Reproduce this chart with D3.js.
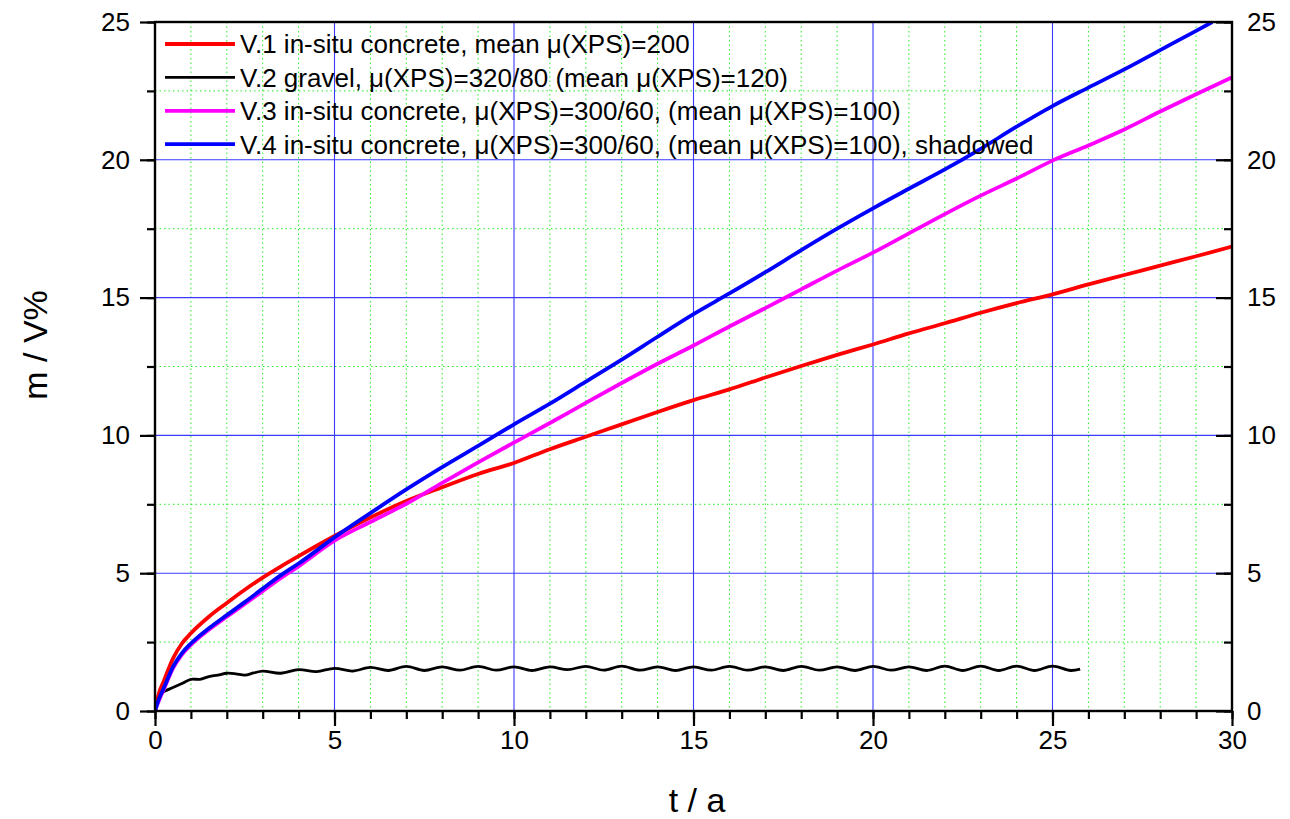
<!DOCTYPE html>
<html>
<head>
<meta charset="utf-8">
<script src="https://cdn.jsdelivr.net/npm/d3@7"></script>
<style>
  html, body { margin: 0; padding: 0; background: #fff; }
  svg { display: block; font-family: "Liberation Sans", Arial, sans-serif; }
</style>
</head>
<body>
<svg id="chart" width="1290" height="819"></svg>
<script>
// Time axis samples (years) for the concrete curves
const tMain = [0, 0.1, 0.25, 0.5, 0.75, 1, 1.5, 2, 2.5, 3, 3.5, 4, 5, 6, 7, 8, 9, 10,
  11, 12, 13, 14, 15, 16, 17, 18, 19, 20, 21, 22, 23, 24, 25, 26, 27, 28, 29, 30];

// V.1 in-situ concrete, mean mu = 200
const v1 = [0, 0.6, 1.1, 1.9, 2.45, 2.82, 3.42, 3.92, 4.4, 4.84, 5.24, 5.62, 6.35, 7.02, 7.62, 8.12, 8.6, 9.0,
  9.5, 9.95, 10.4, 10.85, 11.28, 11.67, 12.1, 12.52, 12.92, 13.3, 13.7, 14.07, 14.45, 14.8, 15.12, 15.48, 15.82, 16.16, 16.5, 16.85];

// V.3 in-situ concrete, mu = 300/60
const v3 = [0, 0.35, 0.8, 1.55, 2.05, 2.4, 2.95, 3.42, 3.88, 4.35, 4.82, 5.25, 6.18, 6.86, 7.52, 8.28, 9.02, 9.74,
  10.45, 11.18, 11.9, 12.6, 13.26, 13.95, 14.62, 15.3, 15.98, 16.63, 17.33, 18.03, 18.7, 19.32, 19.97, 20.52, 21.1, 21.75, 22.38, 22.99];

// V.4 in-situ concrete, mu = 300/60, shadowed (leaves the plot at 25)
const tV4 = [0, 0.1, 0.25, 0.5, 0.75, 1, 1.5, 2, 2.5, 3, 3.5, 4, 5, 6, 7, 8, 9, 10,
  11, 12, 13, 14, 15, 16, 17, 18, 19, 20, 21, 22, 23, 24, 25, 26, 27, 28, 29, 29.45];
const v4 = [0, 0.4, 0.85, 1.6, 2.1, 2.45, 3.0, 3.48, 3.95, 4.44, 4.92, 5.35, 6.3, 7.18, 8.04, 8.85, 9.62, 10.4,
  11.15, 11.95, 12.75, 13.58, 14.4, 15.15, 15.92, 16.72, 17.5, 18.24, 18.95, 19.65, 20.4, 21.2, 21.95, 22.62, 23.28, 23.98, 24.68, 25.0];

// V.2 gravel, mu = 320/80 (seasonal wiggle)
const tV2 = [0, 0.05, 0.1, 0.25, 0.5, 0.75, 1, 1.25, 1.5, 1.75, 2, 2.25, 2.5, 2.75, 3, 3.5, 4, 4.5, 5, 5.5,
  6, 6.5, 7, 7.5, 8, 8.5, 9, 9.5, 10, 10.5, 11, 11.5, 12, 12.5, 13, 13.5, 14, 14.5, 15, 15.5,
  16, 16.5, 17, 17.5, 18, 18.5, 19, 19.5, 20, 20.5, 21, 21.5, 22, 22.5, 23, 23.5, 24, 24.5, 25, 25.5, 25.77];
const v2 = [0, 0.4, 0.52, 0.7, 0.85, 1.0, 1.15, 1.15, 1.25, 1.3, 1.37, 1.35, 1.3, 1.38, 1.45, 1.37, 1.5, 1.43, 1.55, 1.45,
  1.58, 1.47, 1.62, 1.47, 1.6, 1.48, 1.62, 1.48, 1.6, 1.47, 1.6, 1.5, 1.62, 1.48, 1.63, 1.48, 1.6, 1.47, 1.6, 1.48,
  1.62, 1.48, 1.6, 1.47, 1.62, 1.48, 1.6, 1.47, 1.62, 1.48, 1.6, 1.47, 1.63, 1.47, 1.63, 1.47, 1.63, 1.47, 1.63, 1.47, 1.52];

const legendLabels = [
  "V.1 in-situ concrete, mean \u03bc(XPS)=200",
  "V.2 gravel, \u03bc(XPS)=320/80 (mean \u03bc(XPS)=120)",
  "V.3 in-situ concrete, \u03bc(XPS)=300/60, (mean \u03bc(XPS)=100)",
  "V.4 in-situ concrete, \u03bc(XPS)=300/60, (mean \u03bc(XPS)=100), shadowed"
];

const xMajor = [0, 5, 10, 15, 20, 25, 30];
const yMajor = [0, 5, 10, 15, 20, 25];
const xLabel = "t / a";
const yLabel = "m / V%";

const svg = d3.select("#chart");
const L = 155, R = 1232, T = 22, B = 711;

const x = d3.scaleLinear().domain([0, 30]).range([L, R]);
const y = d3.scaleLinear().domain([0, 25]).range([B, T]);

const xMinor = d3.range(0, 31, 1);
const yMinor = d3.range(0, 25.01, 2.5);

// Minor dotted green grid
const grid = svg.append("g");
grid.selectAll("line.gx").data(xMinor.filter(v => v % 5 !== 0)).join("line")
  .attr("x1", d => x(d)).attr("x2", d => x(d)).attr("y1", T).attr("y2", B)
  .attr("stroke", "#22ee22").attr("stroke-width", 1).attr("stroke-dasharray", "1.5,3");
grid.selectAll("line.gy").data(yMinor.filter(v => v % 5 !== 0)).join("line")
  .attr("y1", d => y(d)).attr("y2", d => y(d)).attr("x1", L).attr("x2", R)
  .attr("stroke", "#22ee22").attr("stroke-width", 1).attr("stroke-dasharray", "1.5,3");

// Major blue grid
grid.selectAll("line.mx").data(xMajor.slice(1, -1)).join("line")
  .attr("x1", d => x(d)).attr("x2", d => x(d)).attr("y1", T).attr("y2", B)
  .attr("stroke", "#3a3aff").attr("stroke-width", 1.1);
grid.selectAll("line.my").data(yMajor.slice(1, -1)).join("line")
  .attr("y1", d => y(d)).attr("y2", d => y(d)).attr("x1", L).attr("x2", R)
  .attr("stroke", "#3a3aff").attr("stroke-width", 1.1);

// Curves, clipped to the plot area
svg.append("clipPath").attr("id", "plotClip").append("rect")
  .attr("x", L).attr("y", T).attr("width", R - L).attr("height", B - T);
const plot = svg.append("g").attr("clip-path", "url(#plotClip)");

const line = d3.line().x(d => x(d[0])).y(d => y(d[1])).curve(d3.curveMonotoneX);
const wiggle = d3.line().x(d => x(d[0])).y(d => y(d[1])).curve(d3.curveCatmullRom.alpha(0.5));

const series = [
  { t: tV2, v: v2, color: "#000000", w: 2.8, gen: wiggle },
  { t: tMain, v: v1, color: "#ff0000", w: 3.8, gen: line },
  { t: tMain, v: v3, color: "#ff00ff", w: 3.8, gen: line },
  { t: tV4, v: v4, color: "#0000ff", w: 3.8, gen: line }
];
series.forEach(s => {
  plot.append("path")
    .datum(s.t.map((t, i) => [t, s.v[i]]))
    .attr("fill", "none").attr("stroke", s.color).attr("stroke-width", s.w)
    .attr("stroke-linejoin", "round")
    .attr("d", s.gen);
});

// Axes
const fontSize = 26;
function styleAxis(g) {
  g.select(".domain").remove();
  g.selectAll(".tick line").attr("stroke", "#000").attr("stroke-width", 2.2);
  g.selectAll(".tick text").attr("font-size", fontSize).attr("fill", "#000")
    .attr("font-family", "'Liberation Sans', Arial, sans-serif");
}

svg.append("g").attr("transform", `translate(0,${B})`)
  .call(d3.axisBottom(x).tickValues(xMinor).tickSize(8).tickFormat(""))
  .call(styleAxis);
svg.append("g").attr("transform", `translate(0,${B})`)
  .call(d3.axisBottom(x).tickValues(xMajor).tickSize(15).tickPadding(5).tickFormat(d3.format("d")))
  .call(styleAxis);

svg.append("g").attr("transform", `translate(${L},0)`)
  .call(d3.axisLeft(y).tickValues(yMinor).tickSize(8).tickFormat(""))
  .call(styleAxis);
svg.append("g").attr("transform", `translate(${L},0)`)
  .call(d3.axisLeft(y).tickValues(yMajor).tickSize(15).tickPadding(10).tickFormat(d3.format("d")))
  .call(styleAxis);

svg.append("g").attr("transform", `translate(${R},0)`)
  .call(d3.axisLeft(y).tickValues(yMinor).tickSize(8).tickFormat(""))
  .call(styleAxis);
const rightLabels = svg.append("g").attr("transform", `translate(${R},0)`)
  .call(d3.axisLeft(y).tickValues(yMajor).tickSize(16).tickFormat(d3.format("d")))
  .call(styleAxis);
rightLabels.selectAll(".tick text").attr("x", 15).attr("text-anchor", "start");

// Frame
svg.append("rect").attr("x", L).attr("y", T).attr("width", R - L).attr("height", B - T)
  .attr("fill", "none").attr("stroke", "#000").attr("stroke-width", 2.4);

// Axis titles
svg.append("text").attr("x", 697).attr("y", 812)
  .attr("text-anchor", "middle").attr("font-size", 34).text(xLabel);
svg.append("text").attr("transform", `translate(47,345) rotate(-90)`)
  .attr("text-anchor", "middle").attr("font-size", 34).text(yLabel);

// Legend
const legend = svg.append("g");
const legendColors = ["#ff0000", "#000000", "#ff00ff", "#0000ff"];
const legendWidths = [3.8, 2.8, 3.8, 3.8];
legendLabels.forEach((lab, i) => {
  const cy = 44 + i * 33.4;
  legend.append("line").attr("x1", 165).attr("x2", 235).attr("y1", cy).attr("y2", cy)
    .attr("stroke", legendColors[i]).attr("stroke-width", legendWidths[i]);
  legend.append("text").attr("x", 240).attr("y", cy).attr("dy", "0.36em")
    .attr("font-size", 26).attr("fill", "#000").text(lab);
});
</script>
</body>
</html>
